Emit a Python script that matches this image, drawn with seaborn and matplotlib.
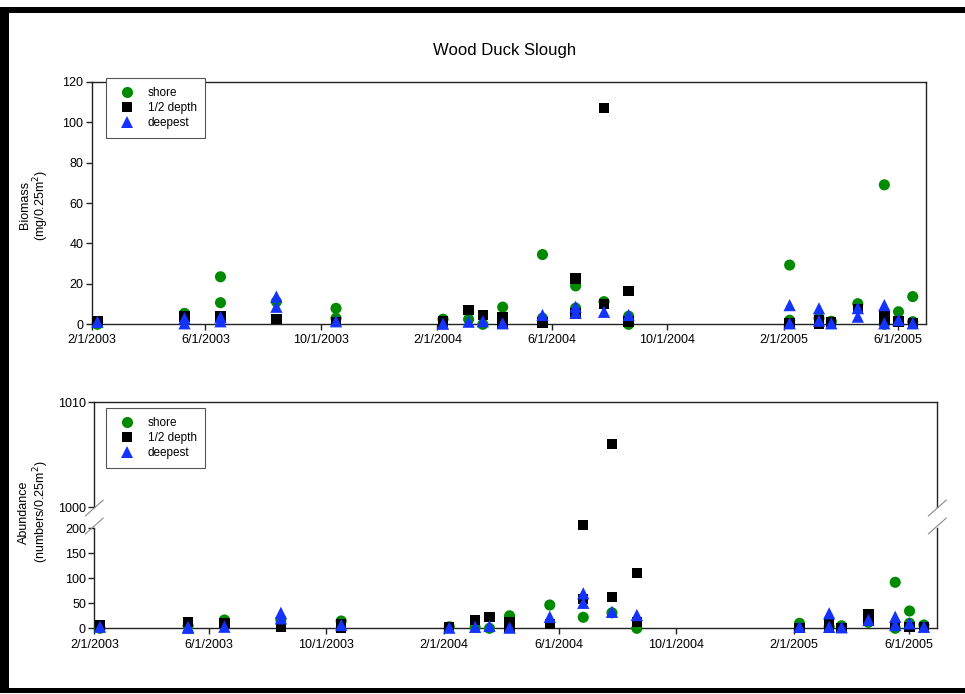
import matplotlib
matplotlib.use("Agg")
import numpy as np
import pandas as pd
import seaborn as sns
import matplotlib.pyplot as plt
from matplotlib.lines import Line2D
from matplotlib.patches import Rectangle

sns.set_theme(style="white")
plt.rcParams['font.family'] = ['Liberation Sans', 'DejaVu Sans']
plt.rcParams['text.color'] = 'black'
plt.rcParams['axes.labelcolor'] = 'black'
plt.rcParams['xtick.color'] = 'black'
plt.rcParams['ytick.color'] = 'black'

# ---------------- data ----------------
DATES = ["2003-02-07", "2003-05-10", "2003-06-17", "2003-08-15", "2003-10-17",
         "2004-02-07", "2004-03-05", "2004-03-20", "2004-04-10", "2004-05-22",
         "2004-06-26", "2004-07-26", "2004-08-21", "2005-02-07", "2005-03-10",
         "2005-03-23", "2005-04-20", "2005-05-18", "2005-06-02", "2005-06-17"]

SERIES = ["shore", "1/2 depth", "deepest"]

shore_biomass = [[0], [5.4], [23.5, 10.7], [11.2], [7.9, 3], [2.5], [2.5], [0], [8.5], [34.5, 3],
                 [19, 8], [11.2], [4, 0], [29.3, 2], [3], [1.5], [10.2], [69, 0], [6.2], [13.7, 1.3]]
half_biomass = [[1.5], [3.8], [3.8], [2.5], [1], [1.3], [7.1], [4.6], [3.5, 0], [0.8],
                [22.7, 5.4], [107, 10], [16.5, 1.3], [0.5], [2.1, 0], [1], [7.5], [4.3, 2.1], [1.3], [0.5]]
deep_biomass = [[1.2], [3, 0.5], [3.5, 1.5], [13.7, 8.7], [1.5], [0.3], [1.3], [1.5], [0.5], [4.6],
                [8.7, 5.7], [6.2], [4.6], [9.5, 0.5], [7.9, 1.8], [0.5], [8, 3.8], [9.5, 0.5], [2.1], [0.5]]

shore_abund = [[0], [5], [16.6], [17], [14.6], [3], [2], [0], [25], [46.6],
               [22], [31], [0], [10], [3], [5], [12], [92, 0], [34.6, 10], [6.6]]
half_abund = [[6.6], [12], [10], [2], [8, 1], [2], [16.6], [22], [13, 0], [8],
              [207, 58], [1006, 63], [110, 12], [1], [13, 1], [1], [28.6, 16.6], [4.6], [2], [2]]
deep_abund = [[3.2], [3, 1], [3.2], [31, 20], [6.6], [1.3], [3], [4.6], [1.3], [23],
              [70, 51], [33], [26.6], [3], [30, 3], [2], [16.6], [23, 6.6], [10], [3]]

XTICKS = ["2/1/2003", "6/1/2003", "10/1/2003", "2/1/2004",
          "6/1/2004", "10/1/2004", "2/1/2005", "6/1/2005"]
XLIM = ["2003-02-01", "2005-07-01"]


def to_long(series_lists):
    rows = []
    for name, lists in zip(SERIES, series_lists):
        for d, vals in zip(DATES, lists):
            for v in vals:
                rows.append({"date": pd.Timestamp(d), "value": v, "series": name})
    return pd.DataFrame(rows)


bio = to_long([shore_biomass, half_biomass, deep_biomass])
abund = to_long([shore_abund, half_abund, deep_abund])

# ---------------- style ----------------
COLORS = {"shore": "#008a00", "1/2 depth": "#000000", "deepest": "#1433ff"}
MARKERS = {"shore": "o", "1/2 depth": "s", "deepest": "^"}
SIZES = {"shore": 64, "1/2 depth": 56, "deepest": 78}
SPINE_C = "#222222"

W, H = 965, 694
fig = plt.figure(figsize=(W / 100, H / 100), dpi=100)
fig.patch.set_facecolor("white")


def px_axes(l, r, t, b):
    return fig.add_axes([l / W, 1 - b / H, (r - l) / W, (b - t) / H])


ax_top = px_axes(91.7, 926, 81.7, 324.3)
ax_up = px_axes(94.3, 937.3, 402.3, 507.3)
ax_lo = px_axes(94.3, 937.3, 528.3, 628.3)

xticks = [pd.to_datetime(t, format="%m/%d/%Y") for t in XTICKS]
xlim = [pd.Timestamp(x) for x in XLIM]


def draw(ax, df):
    for name in SERIES:
        sub = df[df["series"] == name]
        sns.scatterplot(data=sub, x="date", y="value", ax=ax, color=COLORS[name],
                        marker=MARKERS[name], s=SIZES[name], linewidth=0,
                        edgecolor="none", legend=False, clip_on=False, zorder=3)
    ax.set_xlim(xlim)
    ax.set_xlabel("")
    ax.set_ylabel("")
    ax.set_facecolor("white")
    for sp in ax.spines.values():
        sp.set_color(SPINE_C)
        sp.set_linewidth(1.0)
    ax.tick_params(axis="both", direction="out", length=4, width=1.0,
                   color=SPINE_C, labelsize=9, labelcolor="black", pad=2)


# top panel
draw(ax_top, bio)
ax_top.set_ylim(0, 120)
ax_top.set_yticks(range(0, 121, 20))
ax_top.set_xticks(xticks)
ax_top.set_xticklabels(XTICKS)
ax_top.tick_params(axis="x", bottom=True, pad=3)
ax_top.tick_params(axis="y", left=True)

# bottom panel: broken axis
draw(ax_up, abund[abund["value"] >= 990])
ax_up.set_ylim(1000, 1010)
ax_up.set_yticks([1000, 1010])
ax_up.set_xticks([])
ax_up.spines["bottom"].set_visible(False)
ax_up.tick_params(axis="y", left=True)

draw(ax_lo, abund[abund["value"] <= 300])
ax_lo.set_ylim(0, 200)
ax_lo.set_yticks(range(0, 201, 50))
ax_lo.set_xticks(xticks)
ax_lo.set_xticklabels(XTICKS)
ax_lo.spines["top"].set_visible(False)
ax_lo.tick_params(axis="x", bottom=True, pad=4)
ax_lo.tick_params(axis="y", left=True)

# legends
handles = [Line2D([], [], linestyle="none", marker=MARKERS[n], color=COLORS[n],
                  markersize=np.sqrt(SIZES[n]), markeredgewidth=0, label=n) for n in SERIES]
leg_kw = dict(loc="upper left", borderaxespad=0, fontsize=8.5, frameon=True,
              fancybox=False, borderpad=0.75, handlelength=2.1, handletextpad=0.7,
              labelspacing=0.25)
lg1 = ax_top.legend(handles=handles, bbox_to_anchor=(0.0168, 1.015), **leg_kw)
lg2 = ax_up.legend(handles=handles, bbox_to_anchor=(0.0135, 0.946), **leg_kw)
for lg in (lg1, lg2):
    fr = lg.get_frame()
    fr.set_edgecolor("#555555")
    fr.set_linewidth(0.8)
    fr.set_alpha(1)
    lg.set_zorder(10)
    for t in lg.get_texts():
        t.set_color("black")

# break marks
for x in (94.3, 937.3):
    for y in (508, 526):
        fig.add_artist(Line2D([(x - 9) / W, (x + 9) / W], [1 - (y + 8) / H, 1 - (y - 8) / H],
                              color="#8a8a8a", lw=0.8))

# titles / labels
fig.text(505 / W, 1 - 51 / H, "Wood Duck Slough", ha="center", va="center", fontsize=12, color="black")
fig.text(25 / W, 1 - 205 / H, "Biomass", rotation=90, ha="center", va="center", fontsize=9, color="black")
fig.text(41 / W, 1 - 205 / H, "(mg/0.25m$^2$)", rotation=90, ha="center", va="center", fontsize=9, color="black")
fig.text(24 / W, 1 - 512 / H, "Abundance", rotation=90, ha="center", va="center", fontsize=9, color="black")
fig.text(41 / W, 1 - 512 / H, "(numbers/0.25m$^2$)", rotation=90, ha="center", va="center", fontsize=9, color="black")

# black frame
for (x0, y0, x1, y1) in [(0, 7, W, 13), (0, 7, 9, H - 1), (0, 688, W, 693)]:
    fig.add_artist(Rectangle((x0 / W, 1 - y1 / H), (x1 - x0) / W, (y1 - y0) / H,
                             facecolor="black", edgecolor="none", transform=fig.transFigure))

fig.savefig("out.png", dpi=100, facecolor="white")
